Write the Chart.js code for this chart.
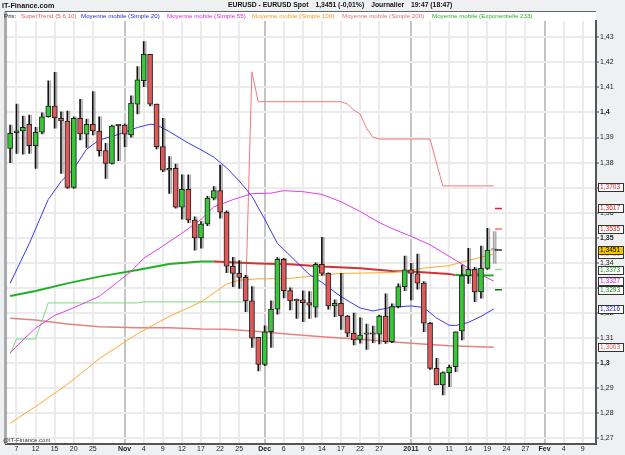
<!DOCTYPE html>
<html><head><meta charset="utf-8">
<script src="https://cdn.jsdelivr.net/npm/chart.js@4/dist/chart.umd.min.js"></script>
<style>
html,body{margin:0;padding:0;background:#eef0f2;}
#wrap{position:relative;width:625px;height:455px;overflow:hidden;font-family:"Liberation Sans",Arial,sans-serif;}
canvas{position:absolute;left:0;top:0;}
.t{position:absolute;white-space:nowrap;line-height:1;}
.h{font-size:7.2px;font-weight:bold;color:#111;top:2px;}
.hd{font-size:6.8px;font-weight:bold;color:#111;top:2px;left:228px;}
.hd span{margin-right:7px;}
.l{font-size:6.2px;top:12.5px;}
</style></head><body>
<div id="wrap">
<canvas id="c" width="625" height="455"></canvas>
<div class="t h" style="left:2px">IT-Finance.com</div>
<div class="t hd"><span>EURUSD - EURUSD Spot</span><span>1,3451 (-0,01%)</span><span>Journalier</span><span>19:47 (18:47)</span></div>
<div class="t l" style="left:4px;color:#222">Prix:</div>
<div class="t l" style="left:21px;color:#e06060">SuperTrend (5.6.10)</div>
<div class="t l" style="left:81px;color:#2a2ae0">Moyenne mobile (Simple 20)</div>
<div class="t l" style="left:167px;color:#d82ad8">Moyenne mobile (Simple 55)</div>
<div class="t l" style="left:252px;color:#f59a20">Moyenne mobile (Simple 100)</div>
<div class="t l" style="left:342px;color:#e07070">Moyenne mobile (Simple 200)</div>
<div class="t l" style="left:432px;color:#28b028">Moyenne mobile (Exponentielle 233)</div>
<div class="t" style="left:3px;top:437px;font-size:6px;color:#333">@IT-Finance.com</div>
</div>
<script>
// ---- data ----
const opens = [
1.3857,1.3919,1.3926,1.3953,1.3868,1.3921,1.3983,1.4026,1.3977,1.3966,
1.3701,1.3977,1.3913,1.3953,1.3926,1.3848,1.3797,1.3949,1.3950,1.3910,
1.4033,1.4127,1.4232,1.4033,1.3864,1.3770,1.3777,1.3622,1.3693,1.3571,
1.3499,1.3555,1.3658,1.3688,1.3602,1.3387,1.3358,1.3342,1.3248,1.3103,
1.2995,1.3125,1.3215,1.3414,1.3289,1.3252,1.3252,1.3241,1.3223,1.3394,
1.3358,1.3228,1.3238,1.3188,1.3119,1.3094,1.3115,1.3121,1.3115,1.3188,
1.3085,1.3225,1.3305,1.3372,1.3356,1.3319,1.3159,1.2979,1.2913,1.2962,
1.2986,1.3128,1.3349,1.3374,1.3284,1.3378,1.3451];
const closes = [
1.3917,1.3927,1.3941,1.3868,1.3921,1.3983,1.4026,1.3979,1.3966,1.3701,
1.3977,1.3914,1.3953,1.3926,1.3848,1.3797,1.3946,1.3947,1.3913,1.4037,
1.4130,1.4232,1.4033,1.3864,1.3770,1.3777,1.3622,1.3693,1.3571,1.3499,
1.3555,1.3658,1.3688,1.3602,1.3387,1.3358,1.3342,1.3248,1.3099,1.2995,
1.3125,1.3215,1.3414,1.3289,1.3248,1.3248,1.3241,1.3231,1.3394,1.3358,
1.3228,1.3238,1.3188,1.3119,1.3092,1.3112,1.3121,1.3115,1.3188,1.3085,
1.3225,1.3305,1.3372,1.3358,1.3319,1.3159,1.2979,1.2913,1.2962,1.2983,
1.3125,1.3349,1.3374,1.3284,1.3378,1.3451,1.3451];
const highs = [
1.3950,1.4033,1.3986,1.3990,1.3941,1.3999,1.4126,1.4160,1.4003,1.4006,
1.3983,1.4052,1.3974,1.4083,1.3983,1.3877,1.3950,1.3951,1.3954,1.4066,
1.4183,1.4283,1.4232,1.4033,1.3977,1.3824,1.3794,1.3751,1.3751,1.3584,
1.3565,1.3665,1.3704,1.3790,1.3608,1.3422,1.3409,1.3350,1.3305,1.3103,
1.3149,1.3248,1.3421,1.3418,1.3300,1.3255,1.3288,1.3285,1.3400,1.3502,
1.3360,1.3252,1.3358,1.3190,1.3200,1.3181,1.3156,1.3148,1.3192,1.3276,
1.3236,1.3316,1.3427,1.3398,1.3435,1.3325,1.3163,1.3019,1.2965,1.2992,
1.3125,1.3391,1.3458,1.3382,1.3467,1.3538,1.3525];
const lows = [
1.3800,1.3837,1.3834,1.3837,1.3777,1.3914,1.3981,1.3937,1.3757,1.3697,
1.3697,1.3890,1.3861,1.3910,1.3826,1.3737,1.3794,1.3808,1.3864,1.3901,
1.3994,1.4103,1.4026,1.3855,1.3764,1.3677,1.3618,1.3574,1.3560,1.3451,
1.3459,1.3548,1.3651,1.3578,1.3361,1.3305,1.3298,1.3205,1.3062,1.2969,
1.2990,1.3062,1.3195,1.3260,1.3212,1.3178,1.3165,1.3178,1.3183,1.3350,
1.3215,1.3185,1.3134,1.3105,1.3072,1.3079,1.3055,1.3081,1.3076,1.3078,
1.3081,1.3220,1.3289,1.3252,1.3295,1.3125,1.2975,1.2913,1.2873,1.2906,
1.2966,1.3092,1.3318,1.3245,1.3259,1.3374,1.3398];

const sma20Idx = [0,3,6,8,10,12,14,17,20,22,23,25,28,30,32,34,36,38,40,42,44,47,49,52,55,57,60,63,65,67,69,70,72,74,76];
const sma20 = [1.3318,1.3476,1.3653,1.3724,1.3775,1.3853,1.3890,1.3912,1.3940,1.3953,1.3951,1.3924,1.3878,1.3851,1.3822,1.3780,1.3727,1.3666,1.3575,1.3478,1.3429,1.3354,1.3322,1.3265,1.3220,1.3208,1.3223,1.3228,1.3222,1.3180,1.3151,1.3150,1.3162,1.3186,1.3216];

const sma55Idx = [0,2,4,7,9,12,14,17,19,21,24,27,30,32,35,38,41,43,46,49,52,55,58,60,63,66,69,71,73,75,76];
const sma55 = [1.3040,1.3092,1.3139,1.3190,1.3210,1.3243,1.3266,1.3325,1.3366,1.3418,1.3467,1.3518,1.3573,1.3623,1.3652,1.3676,1.3678,1.3688,1.3684,1.3673,1.3644,1.3605,1.3561,1.3537,1.3506,1.3472,1.3426,1.3395,1.3363,1.3340,1.3327];

const sma100Idx = [0,4,9,14,20,25,30,34,36,39,44,49,52,60,62,65,69,71,74,76];
const sma100 = [1.2760,1.2826,1.2915,1.3017,1.3117,1.3186,1.3244,1.3315,1.3331,1.3336,1.3338,1.3351,1.3358,1.3361,1.3367,1.3379,1.3389,1.3403,1.3422,1.3435];

const sma200Idx = [0,4,9,14,20,25,30,34,39,44,49,55,60,63,69,76];
const sma200 = [1.3179,1.3172,1.3156,1.3145,1.3141,1.3141,1.3136,1.3135,1.3126,1.3115,1.3105,1.3095,1.3085,1.3079,1.3069,1.3063];

const ema233Idx = [0,4,9,14,20,25,30,32,39,44,49,55,60,63,69,70,76];
const ema233 = [1.3268,1.3288,1.3318,1.3345,1.3371,1.3395,1.3405,1.3405,1.3397,1.3394,1.3385,1.3378,1.3367,1.3365,1.3355,1.3351,1.3349];
const emaTrendBreaks = [32, 70]; // rising until 32, falling until 70, rising after

const stUpIdx = [0,1,4,6,20,21,37];
const stUp = [1.3036,1.3096,1.3096,1.3240,1.3240,1.3244,1.3244];
const stDnIdx = [37,38,39,52,53,54,55,56,57,58,66,68,76];
const stDn = [1.3244,1.4162,1.4043,1.4043,1.4034,1.4010,1.3994,1.3938,1.3902,1.3894,1.3894,1.3707,1.3707];

const pivots = [1.3617,1.3535,1.3451,1.3373,1.3293];
const pivotColors = ['#e82020','#f07070','#333333','#90dd90','#107010'];

const lastBoxes = [
 {v:1.3703, fg:'#e02020', bg:'#ffffff'},
 {v:1.3617, fg:'#e02020', bg:'#ffffff'},
 {v:1.3535, fg:'#e02020', bg:'#ffffff'},
 {v:1.3435, fg:'#f59a20', bg:'#ffffff'},
 {v:1.3451, fg:'#000000', bg:'#f5c400'},
 {v:1.3373, fg:'#22a022', bg:'#ffffff'},
 {v:1.3327, fg:'#d020d0', bg:'#ffffff'},
 {v:1.3293, fg:'#228822', bg:'#ffffff'},
 {v:1.3216, fg:'#2222e0', bg:'#ffffff'},
 {v:1.3063, fg:'#e06060', bg:'#ffffff'}
];

const xTickIdx = [1,4,7,10,13,18,21,24,27,30,33,36,40,43,46,49,52,55,58,63,66,69,72,75,78,81,84,87,90];
const xTickLabels = ['7','12','15','20','25','Nov','4','9','12','17','22','25','Dec','6','9','14','17','22','27','2011','6','11','14','19','24','27','Fev','4','9'];
const monthLabels = ['Nov','Dec','2011','Fev'];
const yTicks = [1.27,1.28,1.29,1.30,1.31,1.32,1.33,1.34,1.35,1.36,1.37,1.38,1.39,1.40,1.41,1.42,1.43];
const yBold = [1.30,1.35,1.40];

const X_MIN = -0.72, X_MAX = 92.08;
const Y_MIN = 1.26771, Y_MAX = 1.4365;

// ---- build ----
const FONT = '"Liberation Sans", Arial, sans-serif';
const GREEN = '#35c935', RED = '#e05858', GRAY = '#a0a0a0';
const last = opens.length - 1;
const pts = (idx, vals) => idx.map((x, k) => ({x, y: vals[k]}));
const candleColor = i => i === last ? GRAY : (closes[i] >= opens[i] ? GREEN : RED);

const wicks = lows.map((l, i) => ({x: i, y: [l, highs[i]]}));
const bodies = opens.map((o, i) => ({x: i, y: [Math.min(o, closes[i]), Math.max(o, closes[i])]}));

const fmt = v => String(Math.round(v * 100) / 100).replace('.', ',');
const isMonth = v => { const k = xTickIdx.indexOf(v); return k >= 0 && monthLabels.includes(xTickLabels[k]); };

const plug = {
  id: 'deco',
  beforeDraw(chart) {
    const {ctx, chartArea: a} = chart;
    ctx.save();
    ctx.fillStyle = '#ffffff';
    ctx.fillRect(a.left, a.top - 9, a.right - a.left, a.bottom - a.top + 9);
    ctx.restore();
  },
  beforeDatasetDraw(chart, args) {
    const ds = chart.data.datasets[args.index];
    if (ds.shadow) {
      const ctx = chart.ctx; ctx.save();
      ctx.shadowColor = 'rgba(80,80,80,0.45)'; ctx.shadowOffsetX = 2; ctx.shadowOffsetY = 0; ctx.shadowBlur = 0;
    }
  },
  afterDatasetDraw(chart, args) {
    if (chart.data.datasets[args.index].shadow) chart.ctx.restore();
  },
  afterDraw(chart) {
    const {ctx, chartArea: a} = chart;
    ctx.save();
    ctx.strokeStyle = '#666'; ctx.lineWidth = 1;
    ctx.beginPath();
    ctx.moveTo(a.left - 0.5, a.bottom); ctx.lineTo(a.left - 0.5, a.top - 9.5); ctx.lineTo(a.right, a.top - 9.5);
    ctx.stroke();
    ctx.strokeStyle = '#aaa'; ctx.lineWidth = 1.5;
    ctx.beginPath(); ctx.moveTo(a.left + 0.8, a.bottom); ctx.lineTo(a.left + 0.8, a.top - 9); ctx.stroke();
    const ys = chart.scales.y;
    ctx.font = '6.6px ' + FONT; ctx.textBaseline = 'middle'; ctx.textAlign = 'left';
    lastBoxes.forEach(b => {
      const y = Math.round(ys.getPixelForValue(b.v));
      ctx.fillStyle = b.bg; ctx.fillRect(598, y - 4, 26, 9);
      ctx.strokeStyle = '#333'; ctx.lineWidth = 1; ctx.strokeRect(598.5, y - 3.5, 25, 8);
      ctx.fillStyle = b.fg; ctx.fillText(b.v.toFixed(4).replace('.', ','), 600, y + 0.5);
    });
    ctx.restore();
  }
};

new Chart(document.getElementById('c'), {
  type: 'bar',
  data: { datasets: [
    {type:'line', data: pts(sma200Idx, sma200), borderColor:'#e88080', borderWidth:1.6, pointRadius:0, order:9},
    {type:'line', data: pts(stUpIdx, stUp), borderColor:'#7cdc7c', borderWidth:1, pointRadius:0, order:8},
    {type:'line', data: pts(stDnIdx, stDn), borderColor:'#f07a7a', borderWidth:1, pointRadius:0, order:8},
    {type:'line', data: pts(ema233Idx, ema233), borderWidth:2, pointRadius:0, order:7,
      segment:{borderColor: c => (c.p0.parsed.x < emaTrendBreaks[0] || c.p0.parsed.x >= emaTrendBreaks[1]) ? '#22b022' : '#d03434'}},
    {type:'line', data: pts(sma100Idx, sma100), borderColor:'#ffa830', borderWidth:1, pointRadius:0, order:6},
    {type:'line', data: pts(sma55Idx, sma55), borderColor:'#e040e8', borderWidth:1, pointRadius:0, order:5},
    {type:'line', data: pts(sma20Idx, sma20), borderColor:'#3a3af0', borderWidth:1, pointRadius:0, order:4},
    {type:'bar', data: wicks, grouped:false, barThickness:1, backgroundColor: wicks.map((d,i)=> i===last ? GRAY : '#111'), borderWidth:0, order:3, shadow:true},
    {type:'bar', data: bodies, grouped:false, barThickness:5, minBarLength:1.5, backgroundColor: bodies.map((d,i)=>candleColor(i)),
      borderColor: bodies.map((d,i)=> i===last ? GRAY : '#222'), borderWidth:1, borderSkipped:false, order:2, shadow:true},
    {type:'line', showLine:false, data: pivots.map(v => ({x: last + 0.75, y: v})), pointStyle:'line', pointRadius:3.5,
      pointBorderColor: pivotColors, pointBorderWidth:1.5, order:1}
  ]},
  options: {
    responsive:false, animation:false, devicePixelRatio:1,
    layout:{padding:{left:3, top:21, right:0, bottom:0}},
    plugins:{legend:{display:false}, tooltip:{enabled:false}},
    scales: {
      x: {type:'linear', min:X_MIN, max:X_MAX, offset:false,
        afterBuildTicks: s => { s.ticks = xTickIdx.map(v => ({value:v})); },
        afterFit: s => { s.height = 11; },
        ticks:{autoSkip:false, maxRotation:0, padding:1, color:'#222',
          font: c => ({family:FONT, size:7, weight: (c.tick && isMonth(c.tick.value)) ? 'bold' : 'normal'}),
          callback: v => { const k = xTickIdx.indexOf(v); return k >= 0 ? xTickLabels[k] : ''; }},
        grid:{offset:false, drawTicks:false, lineWidth:2, color: c => (c.tick && isMonth(c.tick.value)) ? '#c4c4c4' : '#ebebeb'},
        border:{color:'#555', width:2}
      },
      y: {type:'linear', position:'right', min:Y_MIN, max:Y_MAX,
        afterBuildTicks: s => { s.ticks = yTicks.map(v => ({value:v})); },
        afterFit: s => { s.width = 29; },
        ticks:{padding:1, color:'#222',
          font: c => ({family:FONT, size:7, weight: (c.tick && yBold.some(b => Math.abs(b - c.tick.value) < 1e-6)) ? 'bold' : 'normal'}),
          callback: v => fmt(v)},
        grid:{lineWidth:2, color:'#ebebeb', tickLength:3, tickColor:'#444', tickWidth:1},
        border:{color:'#555', width:2}
      }
    }
  },
  plugins:[plug]
});
</script>
</body></html>
